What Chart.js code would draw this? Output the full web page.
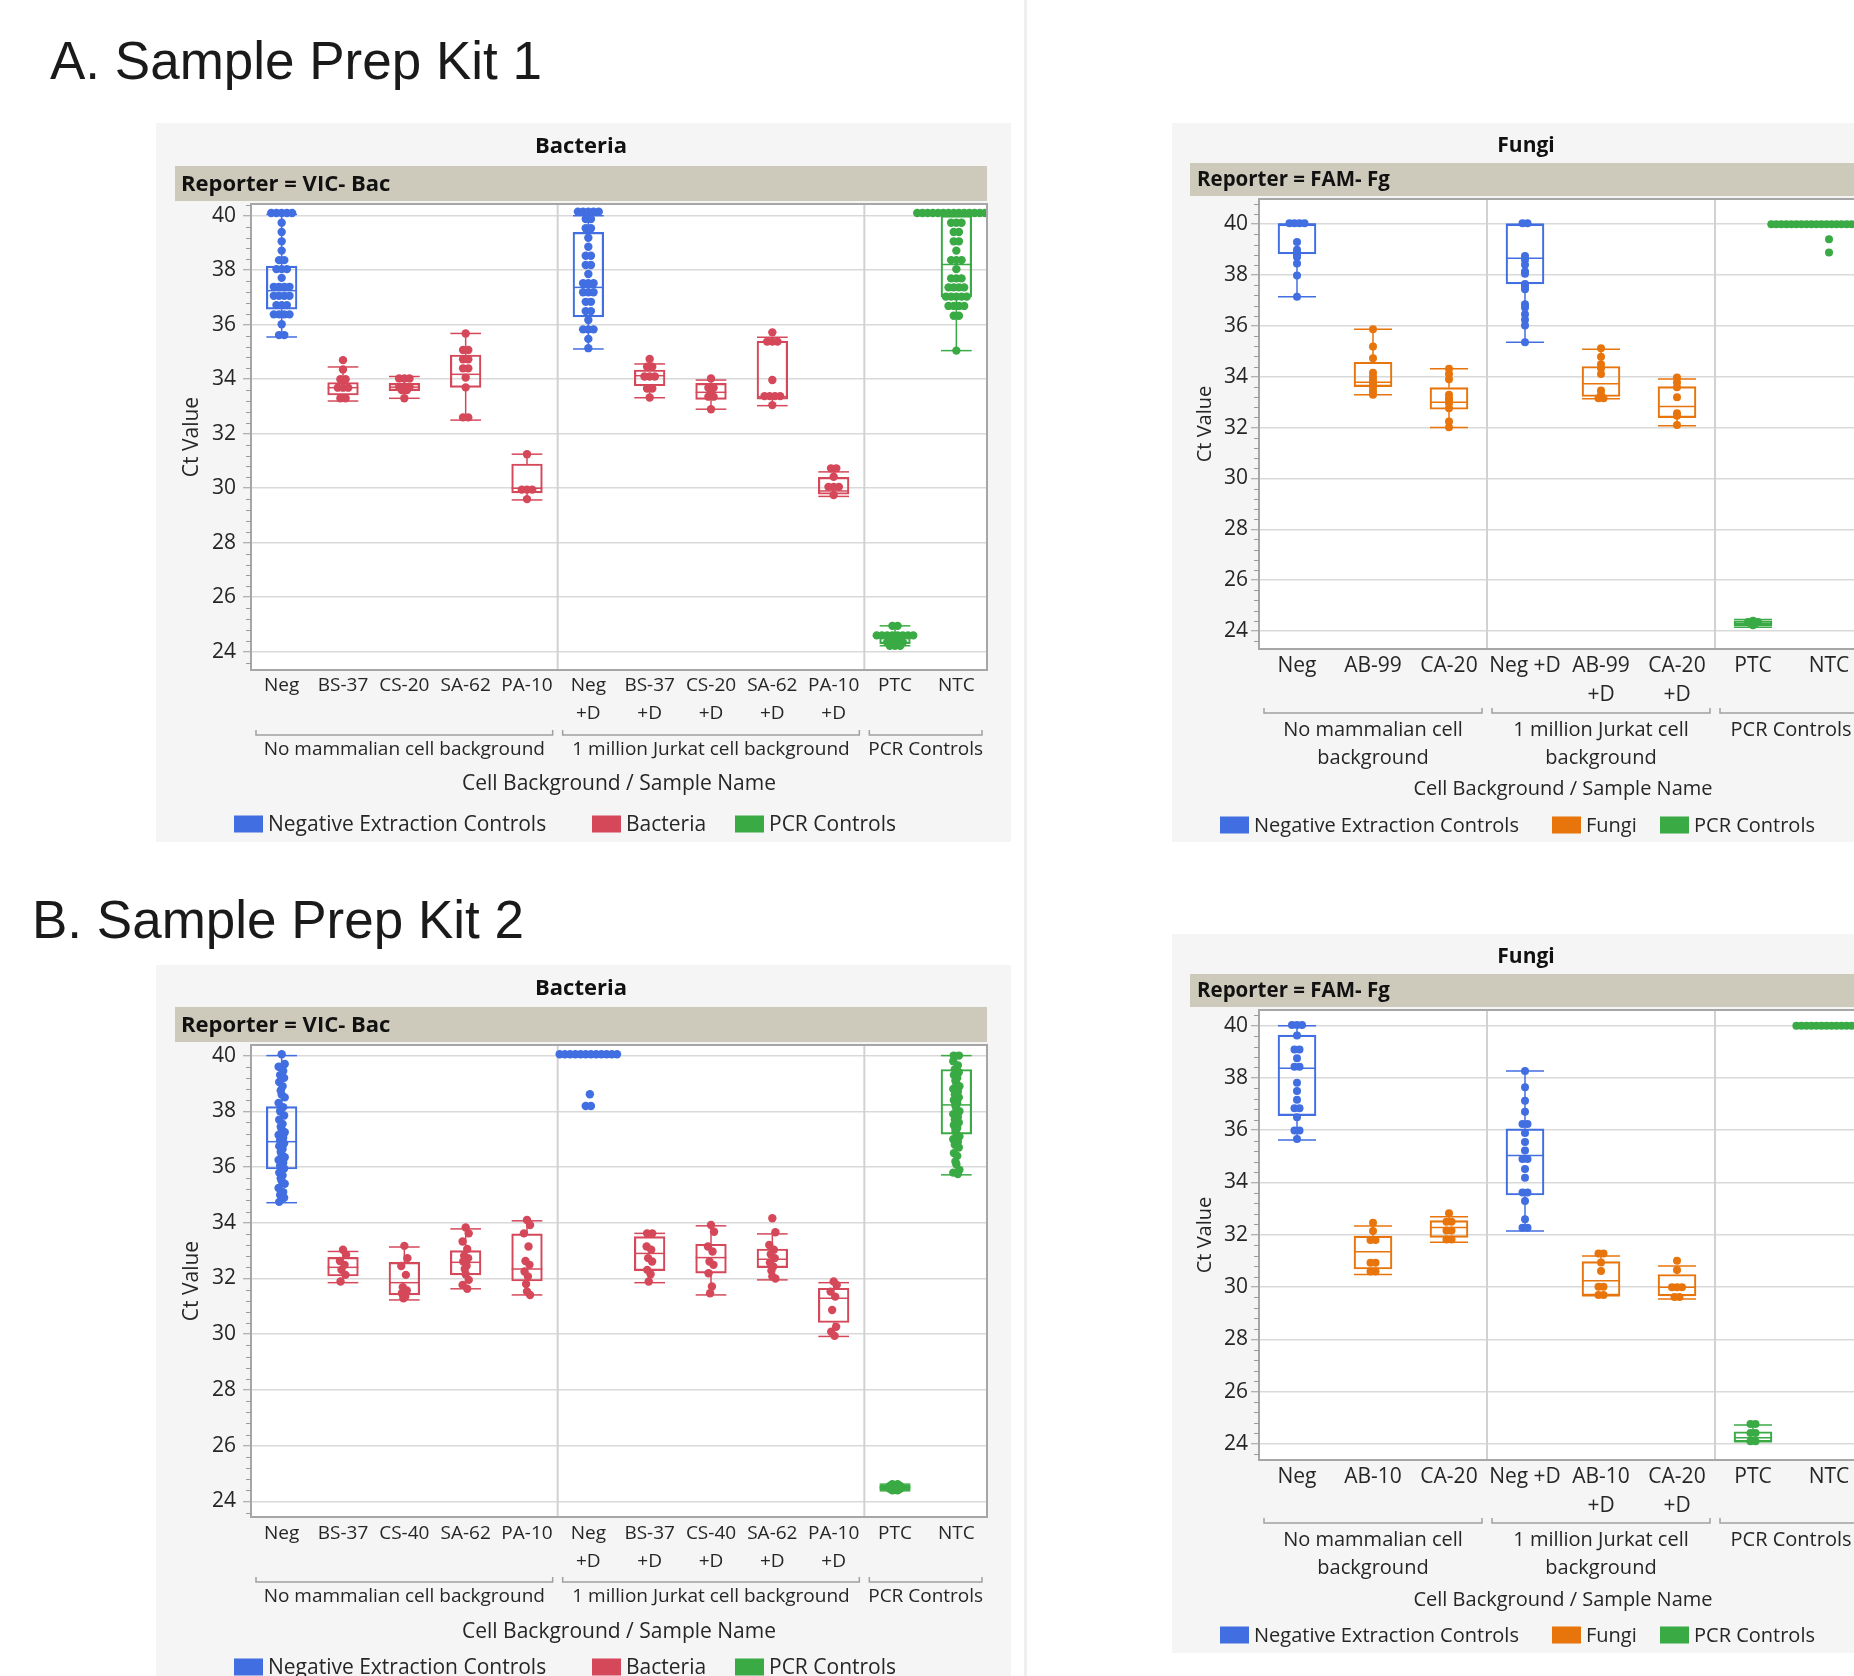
<!DOCTYPE html>
<html><head><meta charset="utf-8">
<script src="https://cdn.jsdelivr.net/npm/chart.js@4.4.1/dist/chart.umd.min.js"></script>
<style>
html,body{margin:0;padding:0;background:#fff;}
body{width:1854px;height:1676px;overflow:hidden;position:relative;font-family:"Liberation Sans",Arial,sans-serif;}
.kit{position:absolute;font-size:53px;color:#1a1a1a;line-height:60px;white-space:nowrap;}
.vsep{position:absolute;left:1024px;top:0;width:3px;height:1676px;background:#efefef;}
canvas{position:absolute;}
</style></head><body>
<div class="kit" style="left:50px;top:31px">A. Sample Prep Kit 1</div>
<div class="kit" style="left:32px;top:890px">B. Sample Prep Kit 2</div>
<div class="vsep"></div>
<canvas id="aBac" width="855" height="719" style="left:156px;top:123px"></canvas>
<canvas id="aFun" width="708" height="719" style="left:1172px;top:123px"></canvas>
<canvas id="bBac" width="855" height="719" style="left:156px;top:965px"></canvas>
<canvas id="bFun" width="708" height="719" style="left:1172px;top:934px"></canvas>
<script>
// ---------------- DATA ----------------
const yTicks = [24, 26, 28, 30, 32, 34, 36, 38, 40];

const aBacLabels = [['Neg'],['BS-37'],['CS-20'],['SA-62'],['PA-10'],['Neg','+D'],['BS-37','+D'],['CS-20','+D'],['SA-62','+D'],['PA-10','+D'],['PTC'],['NTC']];
const aBacKind = ['neg','bac','bac','bac','bac','neg','bac','bac','bac','bac','pcr','pcr'];
const aBacPts = [
  [40.1,40.1,40.1,40.1,40.1,39.74,39.4,39.06,38.72,38.37,38.37,38.04,38.04,38.04,37.72,37.39,37.39,37.39,37.39,37.06,37.06,37.06,37.06,36.72,36.72,36.72,36.38,36.38,36.38,36.38,36.02,35.62,35.62],
  [34.7,34.36,34.0,34.0,33.69,33.69,33.69,33.3,33.3],
  [34.03,34.03,34.03,33.72,33.72,33.72,33.6,33.6,33.3],
  [35.68,35.07,35.07,34.73,34.73,34.4,34.4,34.06,33.7,32.6,32.6],
  [31.25,29.95,29.95,29.95,29.6],
  [40.15,40.15,40.15,40.15,40.15,39.88,39.88,39.54,39.54,39.19,38.86,38.53,38.53,38.19,38.19,37.86,37.52,37.52,37.52,37.19,37.19,37.19,36.84,36.84,36.5,36.5,36.17,35.83,35.83,35.83,35.48,35.14],
  [34.74,34.46,34.46,34.1,34.1,34.1,33.66,33.66,33.33],
  [34.03,33.69,33.69,33.52,33.36,33.36,32.9],
  [35.72,35.38,35.38,35.38,33.97,33.38,33.38,33.38,33.38,33.05],
  [30.73,30.73,30.42,30.05,30.05,30.05,29.75],
  [24.95,24.95,24.6,24.6,24.6,24.6,24.6,24.6,24.6,24.6,24.35,24.35,24.35,24.35,24.22,24.22,24.22],
  [40.1,40.1,40.1,40.1,40.1,40.1,40.1,40.1,40.1,40.1,40.1,40.1,40.1,40.1,40.1,40.1,39.74,39.74,39.74,39.4,39.4,39.06,39.06,38.72,38.37,38.37,38.37,38.04,37.7,37.7,37.7,37.37,37.37,37.37,37.37,37.03,37.03,37.03,37.03,37.03,36.69,36.69,36.69,36.69,36.33,36.33,35.05]
];
const aBacQ1  = [36.57,33.42,33.58,33.70,29.83,36.29,33.76,33.26,33.27,29.78,24.30,37.03];
const aBacMed = [37.25,33.69,33.71,34.18,30.00,37.37,34.13,33.52,33.36,29.90,24.55,38.21];
const aBacQ3  = [38.15,33.88,33.85,34.89,30.89,39.39,34.34,33.85,35.40,30.40,24.62,40.00];
const aBacLo  = [35.55,33.20,33.30,32.50,29.57,35.11,33.32,32.90,33.03,29.70,24.22,35.05];
const aBacHi  = [40.05,34.45,34.10,35.68,31.25,40.00,34.56,33.97,35.54,30.60,24.95,40.10];

const aFunLabels = [['Neg'],['AB-99'],['CA-20'],['Neg +D'],['AB-99','+D'],['CA-20','+D'],['PTC'],['NTC']];
const aFunKind = ['neg','fun','fun','neg','fun','fun','pcr','pcr'];
const aFunPts = [
  [40.04,40.04,40.04,40.04,39.3,38.99,38.9,38.8,38.71,38.45,37.98,37.15],
  [35.87,35.19,34.73,34.16,34.0,33.88,33.77,33.68,33.57,33.42,33.29],
  [34.31,34.11,33.9,33.29,33.15,33.06,32.96,32.76,32.24,32.01],
  [40.04,40.04,38.75,38.6,38.4,38.14,38.05,37.65,37.55,37.44,36.85,36.72,36.46,36.24,36.01,35.36],
  [35.12,34.79,34.49,34.33,34.11,33.46,33.29,33.15,33.15],
  [33.97,33.77,33.59,33.19,32.56,32.46,32.1],
  [24.4,24.35,24.35,24.35,24.3,24.3,24.22],
  [40.0,40.0,40.0,40.0,40.0,40.0,40.0,40.0,40.0,40.0,40.0,40.0,40.0,40.0,40.0,40.0,40.0,40.0,40.0,40.0,40.0,40.0,40.0,40.0,39.41,38.89]
];
const aFunQ1  = [38.83,33.61,32.72,37.65,33.22,32.39,24.20,null];
const aFunMed = [40.00,33.78,33.00,38.66,33.72,32.83,24.30,null];
const aFunQ3  = [40.00,34.57,33.57,40.00,34.40,33.61,24.40,null];
const aFunLo  = [37.15,33.29,32.00,35.36,33.13,32.07,24.15,null];
const aFunHi  = [40.00,35.87,34.31,40.00,35.08,33.91,24.45,null];

const bBacLabels = [['Neg'],['BS-37'],['CS-40'],['SA-62'],['PA-10'],['Neg','+D'],['BS-37','+D'],['CS-40','+D'],['SA-62','+D'],['PA-10','+D'],['PTC'],['NTC']];
const bBacKind = aBacKind;
const bBacPts = [
  [40.05,39.7,39.6,39.45,39.3,39.2,39.05,38.9,38.75,38.6,38.5,38.3,38.15,38.0,37.85,37.7,37.55,37.45,37.35,37.25,37.15,37.05,36.95,36.85,36.75,36.65,36.55,36.45,36.35,36.25,36.15,36.05,35.95,35.8,35.7,35.6,35.5,35.4,35.25,35.1,35.0,34.9,34.75],
  [33.03,32.85,32.63,32.49,32.31,32.13,31.89],
  [33.17,32.73,32.45,32.13,31.69,31.57,31.47,31.35,31.29],
  [33.83,33.62,33.33,33.06,32.82,32.73,32.61,32.46,32.34,32.15,31.95,31.77,31.63],
  [34.1,33.92,33.62,33.15,32.63,32.49,32.25,32.07,31.8,31.53,31.41],
  [40.05,40.05,40.05,40.05,40.05,40.05,40.05,40.05,40.05,40.05,40.05,40.05,38.61,38.19,38.19],
  [33.62,33.62,33.15,33.03,32.73,32.61,32.31,32.15,31.89],
  [33.92,33.68,33.15,32.97,32.61,32.49,32.19,31.71,31.47],
  [34.16,33.66,33.2,33.03,32.87,32.73,32.57,32.43,32.28,32.07,32.0],
  [31.89,31.77,31.53,31.35,30.87,30.27,30.09,29.94],
  [24.62,24.62,24.55,24.55,24.55,24.5,24.5,24.5,24.45,24.45,24.45,24.4,24.4],
  [40.0,40.0,39.8,39.65,39.5,39.4,39.3,39.2,39.1,39.0,38.9,38.8,38.7,38.6,38.5,38.4,38.3,38.2,38.1,38.0,37.9,37.8,37.7,37.6,37.5,37.4,37.3,37.2,37.1,37.0,36.9,36.8,36.7,36.5,36.4,36.2,36.1,35.9,35.8,35.75]
];
const bBacQ1  = [35.93,32.09,31.41,32.13,31.91,null,32.28,32.19,32.39,30.42,24.42,37.18];
const bBacMed = [36.91,32.40,31.85,32.58,32.34,null,32.90,32.75,32.69,31.29,24.50,38.23];
const bBacQ3  = [38.17,32.76,32.58,33.00,33.60,null,33.50,33.23,33.06,31.65,24.58,39.50];
const bBacLo  = [34.72,31.85,31.23,31.63,31.41,null,31.85,31.41,31.95,29.92,24.38,35.72];
const bBacHi  = [40.00,32.97,33.13,33.78,34.07,null,33.62,33.89,33.60,31.85,24.62,40.00];

const bFunLabels = [['Neg'],['AB-10'],['CA-20'],['Neg +D'],['AB-10','+D'],['CA-20','+D'],['PTC'],['NTC']];
const bFunKind = aFunKind;
const bFunPts = [
  [40.03,40.03,40.03,39.62,39.09,39.09,38.75,38.43,38.43,37.82,37.5,37.17,36.84,36.84,36.5,35.99,35.99,35.66],
  [32.46,32.14,31.8,31.8,30.93,30.93,30.59,30.59],
  [32.82,32.5,32.5,32.16,32.16,31.82,31.82],
  [38.27,37.64,37.13,36.71,36.24,36.24,35.89,35.55,35.22,34.9,34.9,34.52,34.18,33.62,33.62,33.29,32.59,32.27,32.27],
  [31.28,31.28,30.94,30.61,30.01,30.01,29.69,29.69],
  [31.0,30.65,29.99,29.99,29.99,29.62,29.62],
  [24.76,24.76,24.41,24.41,24.1,24.1],
  [40.0,40.0,40.0,40.0,40.0,40.0,40.0,40.0,40.0,40.0,40.0,40.0,40.0,40.0]
];
const bFunQ1  = [36.56,30.69,31.90,33.52,29.67,29.66,24.08,null];
const bFunMed = [38.37,31.35,32.28,35.03,30.24,29.99,24.23,null];
const bFunQ3  = [39.64,31.95,32.54,36.05,30.97,30.48,24.46,null];
const bFunLo  = [35.63,30.48,31.71,32.14,29.67,29.54,24.08,null];
const bFunHi  = [40.00,32.33,32.69,38.27,31.19,30.80,24.72,null];

const bacGroups = [['No mammalian cell background'],['1 million Jurkat cell background'],['PCR Controls']];
const bacGroupSpans = [5, 5, 2];
const funGroups = [['No mammalian cell','background'],['1 million Jurkat cell','background'],['PCR Controls']];
const funGroupSpans = [3, 3, 2];
const bacLegend = [['neg','Negative Extraction Controls'],['bac','Bacteria'],['pcr','PCR Controls']];
const funLegend = [['neg','Negative Extraction Controls'],['fun','Fungi'],['pcr','PCR Controls']];

// ---------------- STYLE ----------------
const COLORS = {neg:'#416ee0', bac:'#d5485a', fun:'#e8750c', pcr:'#39aa44'};
const FONT = '"Open Sans", "Noto Sans", sans-serif';
const PATTERN = [0, 1, -1, 0.5, -0.5, 0.8, -0.8, 0.3, -0.3];

function jitterPoints(pts, kinds, kind, step, amp) {
  const out = [];
  pts.forEach((vals, i) => {
    if (kinds[i] !== kind) return;
    const counts = {}, seen = {};
    vals.forEach(v => counts[v] = (counts[v] || 0) + 1);
    vals.forEach((v, j) => {
      const c = counts[v]; const k = seen[v] || 0; seen[v] = k + 1;
      const off = c > 1 ? (k - (c - 1) / 2) * step : amp * PATTERN[j % PATTERN.length];
      out.push({x: i + off, y: v});
    });
  });
  return out;
}

function line(ctx, x0, y0, x1, y1) { ctx.beginPath(); ctx.moveTo(x0, y0); ctx.lineTo(x1, y1); ctx.stroke(); }

function makePanel(id, P) {
  const canvas = document.getElementById(id);
  const W = canvas.width, H = canvas.height, L = P.L, n = P.labels.length;
  const kinds = [...new Set(P.kind)];
  const datasets = kinds.map(k => ({
    type: 'scatter', xAxisID: 'x', yAxisID: 'y', order: 0,
    data: jitterPoints(P.pts, P.kind, k, P.step, P.amp),
    backgroundColor: COLORS[k], borderWidth: 0, pointRadius: P.r, pointHoverRadius: P.r
  }));
  datasets.push({
    type: 'bar', xAxisID: 'x', yAxisID: 'y', order: 1, grouped: false,
    data: P.q1.map((v, i) => ({x: i, y: v == null ? null : [P.q1[i], P.q3[i]]})),
    backgroundColor: 'rgba(0,0,0,0)', borderColor: P.kind.map(k => COLORS[k]),
    borderWidth: 1.5, borderSkipped: false,
    barThickness: (L.right - L.left) / n * 0.5
  });

  const decor = {
    id: 'decor',
    beforeDraw(chart) {
      const {ctx, chartArea: a} = chart;
      ctx.save();
      ctx.fillStyle = '#f5f5f5'; ctx.fillRect(0, 0, W, H);
      ctx.fillStyle = '#ffffff'; ctx.fillRect(a.left, a.top, a.right - a.left, a.bottom - a.top);
      ctx.fillStyle = '#111'; ctx.textAlign = 'center'; ctx.textBaseline = 'middle';
      ctx.font = `bold ${P.f.title}px ${FONT}`;
      ctx.fillText(P.title, L.titleX, L.titleY);
      ctx.fillStyle = '#cdcabb';
      ctx.fillRect(L.bandX, L.bandTop, a.right - L.bandX, L.bandBot - L.bandTop);
      ctx.fillStyle = '#111'; ctx.textAlign = 'left';
      ctx.font = `bold ${P.f.band}px ${FONT}`;
      ctx.fillText(P.reporter, L.bandTextX, (L.bandTop + L.bandBot) / 2 + 1);
      ctx.restore();
    },
    beforeDatasetsDraw(chart) {
      const {ctx, chartArea: a, scales} = chart;
      const x = scales.x, y = scales.y, cw = (a.right - a.left) / n;
      ctx.save();
      ctx.strokeStyle = '#d2d2d2'; ctx.lineWidth = 2;
      let acc = 0;
      P.spans.slice(0, -1).forEach(s => { acc += s; const px = x.getPixelForValue(acc - 0.5); line(ctx, px, a.top, px, a.bottom); });
      ctx.lineWidth = 1.5;
      for (let i = 0; i < n; i++) {
        if (P.lo[i] == null) continue;
        const cx = x.getPixelForValue(i), hw = cw * 0.25;
        const yl = y.getPixelForValue(P.lo[i]), yh = y.getPixelForValue(P.hi[i]);
        const y1 = y.getPixelForValue(P.q1[i]), y3 = y.getPixelForValue(P.q3[i]), ym = y.getPixelForValue(P.med[i]);
        ctx.strokeStyle = COLORS[P.kind[i]];
        line(ctx, cx, yl, cx, y1); line(ctx, cx, y3, cx, yh);
        line(ctx, cx - hw, yl, cx + hw, yl); line(ctx, cx - hw, yh, cx + hw, yh);
        line(ctx, cx - hw, ym, cx + hw, ym);
      }
      ctx.restore();
    },
    afterDraw(chart) {
      const {ctx, chartArea: a, scales} = chart;
      const x = scales.x, y = scales.y;
      ctx.save();
      ctx.strokeStyle = '#a6a6a6'; ctx.lineWidth = 2;
      ctx.strokeRect(a.left, a.top, a.right - a.left, a.bottom - a.top);
      ctx.strokeStyle = '#9a9a9a'; ctx.lineWidth = 1;
      for (let k = Math.ceil(y.min / 0.4); k <= Math.floor(y.max / 0.4); k++) {
        const v = k * 0.4;
        if (Math.abs(v / 2 - Math.round(v / 2)) < 0.01) continue;
        const py = Math.round(y.getPixelForValue(v)) + 0.5;
        line(ctx, a.left - 5, py, a.left, py);
      }
      ctx.fillStyle = '#262626'; ctx.textAlign = 'center'; ctx.textBaseline = 'middle';
      ctx.font = `${P.f.group}px ${FONT}`;
      let acc = 0;
      P.spans.forEach((s, g) => {
        const x0 = x.getPixelForValue(acc - 0.5) + 5, x1 = x.getPixelForValue(acc + s - 0.5) - 5; acc += s;
        ctx.strokeStyle = '#a0a0a0'; ctx.lineWidth = 1.5;
        ctx.beginPath(); ctx.moveTo(x0, L.bracketY - 5); ctx.lineTo(x0, L.bracketY); ctx.lineTo(x1, L.bracketY); ctx.lineTo(x1, L.bracketY - 5); ctx.stroke();
        P.groups[g].forEach((t, j) => ctx.fillText(t, (x0 + x1) / 2, L.groupY + j * L.groupGap));
      });
      ctx.font = `${P.f.axis}px ${FONT}`;
      ctx.fillText('Cell Background / Sample Name', (a.left + a.right) / 2, L.axisTitleY);
      ctx.save(); ctx.translate(L.yTitleX, (a.top + a.bottom) / 2); ctx.rotate(-Math.PI / 2);
      ctx.font = `${P.f.ytitle}px ${FONT}`; ctx.fillText('Ct Value', 0, 0); ctx.restore();
      ctx.font = `${P.f.legend}px ${FONT}`; ctx.textAlign = 'left';
      P.legend.forEach(([k, t], i) => {
        const lx = L.legendX[i];
        ctx.fillStyle = COLORS[k]; ctx.fillRect(lx, L.legendY - 8.5, 29, 17);
        ctx.fillStyle = '#262626'; ctx.fillText(t, lx + 34, L.legendY + 1);
      });
      ctx.restore();
    }
  };

  return new Chart(canvas, {
    type: 'bar',
    data: {datasets},
    options: {
      responsive: false, animation: false, events: [],
      layout: {padding: {left: 0, top: L.top, right: W - L.right, bottom: 0}},
      plugins: {legend: {display: false}, title: {display: false}, tooltip: {enabled: false}},
      scales: {
        x: {type: 'linear', position: 'bottom', min: -0.5, max: n - 0.5, offset: false, bounds: 'data', grace: 0,
            afterBuildTicks: s => { s.ticks = P.labels.map((_, i) => ({value: i})); },
            grid: {display: false, drawTicks: false, offset: false}, border: {display: false},
            ticks: {autoSkip: false, maxRotation: 0, minRotation: 0, color: '#262626', padding: L.tickPad,
                    callback: (v) => P.labels[Math.round(v)],
                    font: {family: FONT, size: P.f.xtick, lineHeight: L.tickLH / P.f.xtick}},
            afterFit: s => { s.height = H - L.bottom; }},
        y: {type: 'linear', position: 'left', min: P.ymin, max: P.ymax, beginAtZero: false,
            afterBuildTicks: s => { s.ticks = yTicks.map(v => ({value: v})); },
            grid: {color: '#d9d9d9', lineWidth: 1.5, drawTicks: true, tickLength: 8, tickColor: '#9a9a9a', tickWidth: 1},
            border: {display: false},
            ticks: {color: '#262626', padding: P.ypad, font: {family: FONT, size: P.f.ytick}},
            afterFit: s => { s.width = L.left; }}
      }
    },
    plugins: [decor]
  });
}

const bacFonts = {title: 22, band: 22, xtick: 19, ytick: 21, group: 19, axis: 21, ytitle: 21, legend: 21};
const funFonts = {title: 21, band: 20.5, xtick: 21, ytick: 21, group: 20, axis: 20, ytitle: 20, legend: 20};

makePanel('aBac', {
  labels: aBacLabels, kind: aBacKind, pts: aBacPts, q1: aBacQ1, med: aBacMed, q3: aBacQ3, lo: aBacLo, hi: aBacHi,
  groups: bacGroups, spans: bacGroupSpans, legend: bacLegend, title: 'Bacteria', reporter: 'Reporter = VIC- Bac',
  ymin: 23.33, ymax: 40.43, step: 0.085, amp: 0, r: 4.2, ypad: 7, f: bacFonts,
  L: {left: 95, right: 831, top: 81, bottom: 547, titleX: 425, titleY: 24, bandX: 19, bandTop: 43, bandBot: 78, bandTextX: 25,
      tickPad: 2, tickLH: 28, bracketY: 612, groupY: 627, groupGap: 28, axisTitleY: 661, yTitleX: 36,
      legendX: [78, 436, 579], legendY: 701}
});
makePanel('bBac', {
  labels: bBacLabels, kind: bBacKind, pts: bBacPts, q1: bBacQ1, med: bBacMed, q3: bBacQ3, lo: bBacLo, hi: bBacHi,
  groups: bacGroups, spans: bacGroupSpans, legend: bacLegend, title: 'Bacteria', reporter: 'Reporter = VIC- Bac',
  ymin: 23.44, ymax: 40.38, step: 0.085, amp: 0.05, r: 4.2, ypad: 7, f: bacFonts,
  L: {left: 95, right: 831, top: 80, bottom: 552, titleX: 425, titleY: 24, bandX: 19, bandTop: 42, bandBot: 77, bandTextX: 25,
      tickPad: 3, tickLH: 28, bracketY: 617, groupY: 632, groupGap: 28, axisTitleY: 667, yTitleX: 36,
      legendX: [78, 436, 579], legendY: 702}
});
makePanel('aFun', {
  labels: aFunLabels, kind: aFunKind, pts: aFunPts, q1: aFunQ1, med: aFunMed, q3: aFunQ3, lo: aFunLo, hi: aFunHi,
  groups: funGroups, spans: funGroupSpans, legend: funLegend, title: 'Fungi', reporter: 'Reporter = FAM- Fg',
  ymin: 23.29, ymax: 40.99, step: 0.066, amp: 0, r: 4.0, ypad: 3, f: funFonts,
  L: {left: 87, right: 695, top: 76, bottom: 526, titleX: 354, titleY: 23, bandX: 18, bandTop: 40, bandBot: 73, bandTextX: 25,
      tickPad: 2.5, tickLH: 29, bracketY: 590, groupY: 607, groupGap: 28, axisTitleY: 666, yTitleX: 33,
      legendX: [48, 380, 488], legendY: 702}
});
makePanel('bFun', {
  labels: bFunLabels, kind: bFunKind, pts: bFunPts, q1: bFunQ1, med: bFunMed, q3: bFunQ3, lo: bFunLo, hi: bFunHi,
  groups: funGroups, spans: funGroupSpans, legend: funLegend, title: 'Fungi', reporter: 'Reporter = FAM- Fg',
  ymin: 23.38, ymax: 40.6, step: 0.066, amp: 0, r: 4.0, ypad: 3, f: funFonts,
  L: {left: 87, right: 695, top: 76, bottom: 526, titleX: 354, titleY: 23, bandX: 18, bandTop: 40, bandBot: 73, bandTextX: 25,
      tickPad: 2.5, tickLH: 29, bracketY: 589, groupY: 606, groupGap: 28, axisTitleY: 666, yTitleX: 33,
      legendX: [48, 380, 488], legendY: 701}
});
</script>
</body></html>
